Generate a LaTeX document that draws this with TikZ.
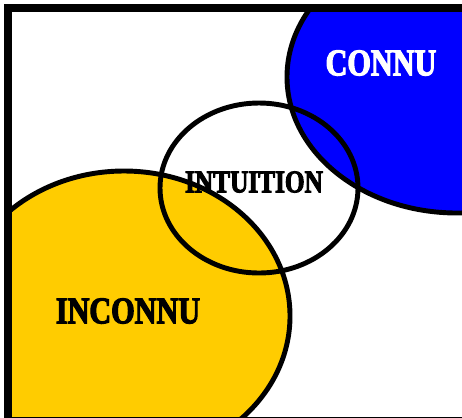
\documentclass[tikz,border=0pt]{standalone}
\usepackage{fontspec}
\setmainfont{Liberation Serif}
\newfontfamily\zonefont[FakeStretch=0.8,FakeBold=3]{Liberation Serif}
\usetikzlibrary{calc}
\definecolor{JJaune}{HTML}{FFCC00}
\definecolor{BBleu}{HTML}{0000FF}
\tikzset{
    zone/.style = {draw=black, line width=2.8pt},
    frame/.style = {draw=black, line width=4.5pt},
    zonetext/.style = {inner sep=0pt, font=\zonefont\bfseries\fontsize{21.5}{25}\selectfont}
}

\begin{document}
\begin{tikzpicture}[x=0.02cm,y=-0.02cm]
    \useasboundingbox (0,0) rectangle (462,417);
    \fill[white] (0,0) rectangle (462,417);
    % les trois zones, coupees par le cadre
    \begin{scope}
        \clip (8,8) rectangle (462,417);
        \filldraw[zone,fill=JJaune] (124,316) ellipse [x radius=166, y radius=145];
        \filldraw[zone,fill=BBleu] (457,77) ellipse [x radius=170, y radius=136];
        \draw[zone] (259,188) ellipse [x radius=99, y radius=85];
    \end{scope}
    % cadre
    \begin{scope}
        \clip (0,0) rectangle (462,417);
        \draw[frame] (8,8) rectangle (470,420.5);
    \end{scope}
    \node[zonetext,text=white] (connu) at (381,63) {CONNU};
    \node[zonetext,font=\zonefont\bfseries\fontsize{18}{21}\selectfont] (intuition) at (254,182) {INTUITION};
    \node[zonetext] (inconnu) at (128,311) {INCONNU};
\end{tikzpicture}
\end{document}
